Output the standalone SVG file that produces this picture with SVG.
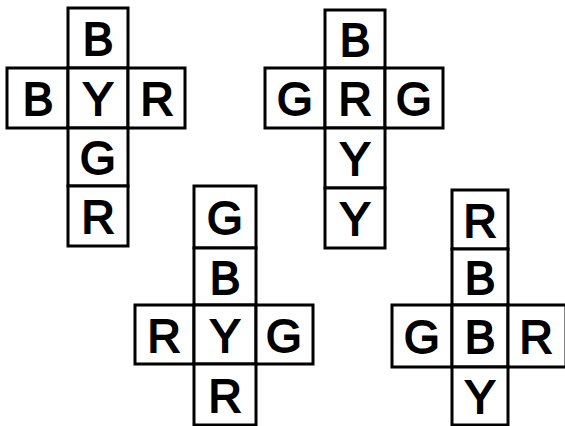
<svg xmlns="http://www.w3.org/2000/svg" width="565" height="426" viewBox="0 0 565 426">
<style>
rect{fill:#fff;stroke:#000;stroke-width:3}
text{font-family:"Liberation Sans",Arial,sans-serif;font-size:46px;text-anchor:middle;fill:#000;stroke:#000;stroke-width:1.8}
</style>
<rect x="0" y="0" width="565" height="426" style="stroke:none"/>
<g id="net1">
<rect x="68" y="8" width="60" height="60"/><text x="98" y="55">B</text>
<rect x="7" y="68" width="61" height="60"/><text x="38" y="115">B</text>
<rect x="68" y="68" width="60" height="60"/><text x="98" y="115">Y</text>
<rect x="128" y="68" width="57" height="60"/><text x="157" y="115">R</text>
<rect x="68" y="128" width="60" height="58"/><text x="98" y="174">G</text>
<rect x="68" y="186" width="60" height="60"/><text x="98" y="233">R</text>
</g>
<g id="net2">
<rect x="325" y="10" width="60" height="58"/><text x="355" y="56">B</text>
<rect x="265" y="68" width="60" height="60"/><text x="295" y="115">G</text>
<rect x="325" y="68" width="60" height="60"/><text x="355" y="115">R</text>
<rect x="385" y="68" width="58" height="60"/><text x="414" y="115">G</text>
<rect x="325" y="128" width="60" height="60"/><text x="355" y="175">Y</text>
<rect x="325" y="188" width="60" height="60"/><text x="355" y="235">Y</text>
</g>
<g id="net3">
<rect x="194" y="186" width="62" height="62"/><text x="225" y="234">G</text>
<rect x="194" y="248" width="62" height="57"/><text x="225" y="294">B</text>
<rect x="135" y="305" width="59" height="59"/><text x="164" y="352">R</text>
<rect x="194" y="305" width="62" height="59"/><text x="225" y="352">Y</text>
<rect x="256" y="305" width="57" height="59"/><text x="284" y="352">G</text>
<rect x="194" y="364" width="62" height="61"/><text x="225" y="412">R</text>
</g>
<g id="net4">
<rect x="452" y="190" width="56" height="59"/><text x="480" y="237">R</text>
<rect x="452" y="249" width="56" height="56"/><text x="480" y="294">B</text>
<rect x="392" y="305" width="60" height="62"/><text x="422" y="353">G</text>
<rect x="452" y="305" width="56" height="62"/><text x="480" y="353">B</text>
<rect x="508" y="305" width="58" height="62"/><text x="536" y="353">R</text>
<rect x="452" y="367" width="56" height="58"/><text x="480" y="413">Y</text>
</g>
</svg>
